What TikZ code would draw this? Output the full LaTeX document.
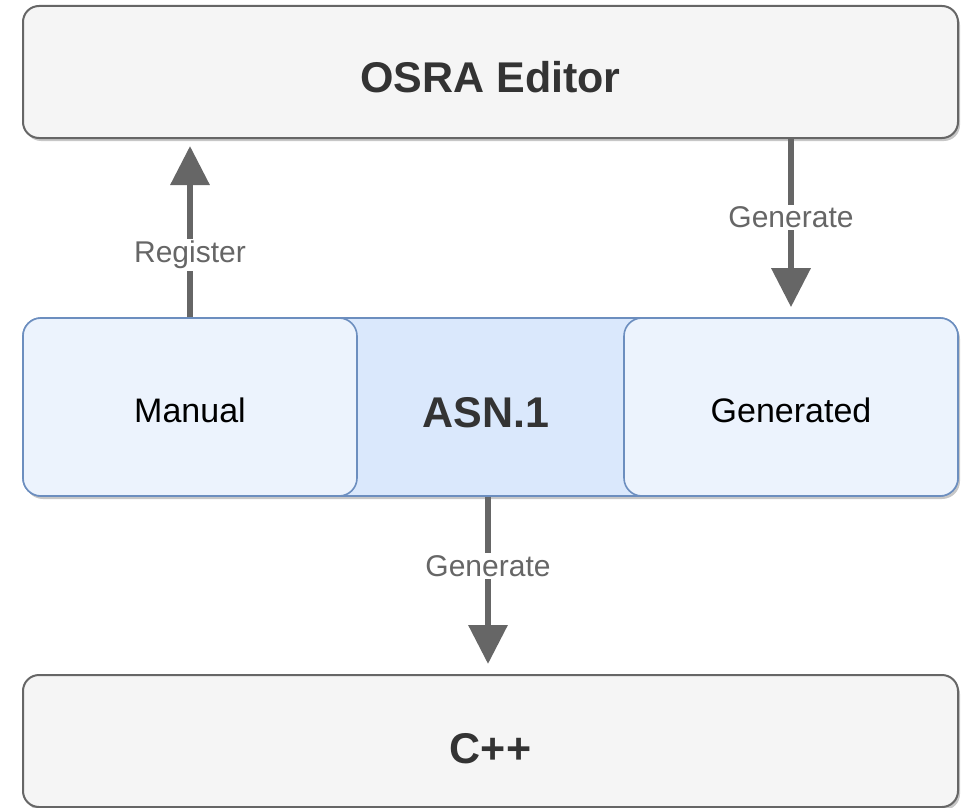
\documentclass[tikz,border=0pt]{standalone}
\usepackage{fontspec}
\setmainfont{Liberation Sans}
\usetikzlibrary{arrows.meta,shadows,calc}
\definecolor{grayfill}{HTML}{F5F5F5}
\definecolor{graystroke}{HTML}{666666}
\definecolor{bluefill}{HTML}{DAE8FC}
\definecolor{lightbluefill}{HTML}{ECF3FD}
\definecolor{bluestroke}{HTML}{6C8EBF}
\definecolor{darktext}{HTML}{333333}
\begin{document}
\begin{tikzpicture}[x=1pt,y=-1pt,
  myshadow/.style={drop shadow={shadow xshift=2pt,shadow yshift=-3pt,opacity=0.22,fill=black}},
  graybox/.style={rectangle,rounded corners=16pt,draw=graystroke,line width=2pt,fill=grayfill,
    myshadow,minimum width=935pt,minimum height=132pt,text depth=0pt,
    font=\fontsize{43}{50}\selectfont\bfseries,text=darktext},
  bluebox/.style={rectangle,rounded corners=18pt,draw=bluestroke,line width=1.6pt,fill=bluefill,
    myshadow,minimum width=935pt,minimum height=178pt,
    font=\fontsize{43}{50}\selectfont\bfseries,text=darktext},
  subbox/.style={rectangle,rounded corners=18pt,draw=bluestroke,line width=1.6pt,fill=lightbluefill,
    minimum width=334pt,minimum height=178pt,text height=30.4pt,text depth=0pt,
    font=\fontsize{34}{40}\selectfont,text=black},
  conn/.style={draw=graystroke,line width=6.5pt,
    -{Triangle[width=38pt,length=39pt]}},
  lbl/.style={fill=white,inner sep=2pt,text=graystroke,font=\fontsize{30}{36}\selectfont}
]
\useasboundingbox (0,0) rectangle (970,808);
\node[graybox,text height=41pt] (osra) at (490.5,72) {OSRA Editor};
\node[graybox,text height=45pt] (cpp) at (490.5,741) {C++};
\node[bluebox] (asn) at (490.5,407) {};
\node[subbox] (manual) at (190,407) {Manual};
\node[subbox] (generated) at (791,407) {Generated};
\node[font=\fontsize{43}{50}\selectfont\bfseries,text=darktext] (asntext) at (486,413) {ASN.1};

\draw[conn,shorten >=7pt] (manual.north) -- (manual.north |- osra.south)
  node[lbl,pos=0.35] (reglbl) {Register};
\draw[conn,shorten >=10pt] (osra.south -| generated.north) -- (generated.north)
  node[lbl,pos=0.44] (genlbl1) {Generate};
\draw[conn,shorten >=10pt] ($(asn.south)+(-2.5,0)$) -- ($(cpp.north)+(-2.5,0)$)
  node[lbl,pos=0.39] (genlbl2) {Generate};
\end{tikzpicture}
\end{document}
